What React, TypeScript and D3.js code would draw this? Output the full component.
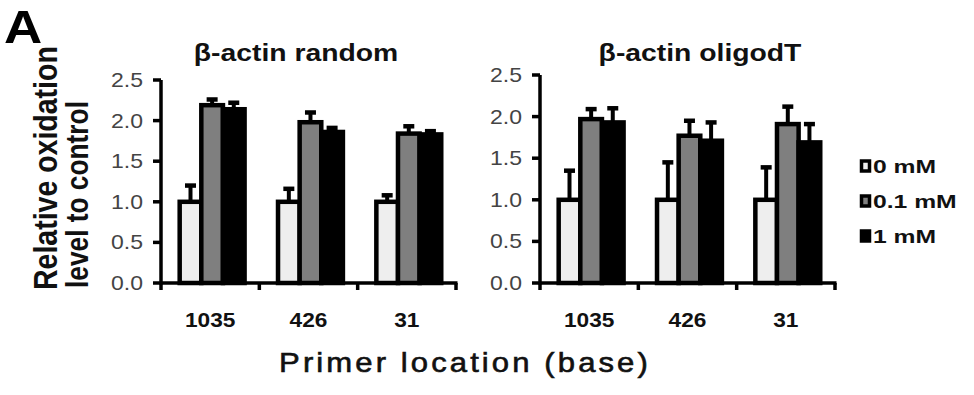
import React from 'react';
import * as d3 from 'd3';

const categories = ['1035', '426', '31'];
const series = ['0 mM', '0.1 mM', '1 mM'];
const seriesColors = ['#eeeeee', '#7f7f7f', '#000000'];
const yTicks = [0, 0.5, 1.0, 1.5, 2.0, 2.5];

// β-actin random
const randomZero = [1.0, 1.0, 1.0];
const randomLow = [2.19, 1.98, 1.84];
const randomHigh = [2.14, 1.86, 1.83];
const randomZeroErr = [0.2, 0.16, 0.08];
const randomLowErr = [0.07, 0.12, 0.09];
const randomHighErr = [0.08, 0.05, 0.04];

// β-actin oligodT
const oligoZero = [1.0, 1.0, 1.0];
const oligoLow = [1.97, 1.77, 1.91];
const oligoHigh = [1.93, 1.71, 1.69];
const oligoZeroErr = [0.35, 0.45, 0.39];
const oligoLowErr = [0.12, 0.18, 0.21];
const oligoHighErr = [0.17, 0.22, 0.22];

const font = 'Arial, "Liberation Sans", Helvetica, sans-serif';

// the original figure is stretched sideways, so text is too
function T({ x, y, sx = 1.3, anchor = 'middle', rotate = 0, children, ...rest }: any) {
  return (
    <text
      transform={`translate(${x},${y}) scale(${sx},1)${rotate ? ` rotate(${rotate})` : ''}`}
      textAnchor={anchor}
      fontFamily={font}
      {...rest}
    >
      {children}
    </text>
  );
}

function Panel({ title, left, right, top, bottom, titleX, values, errors }: any) {
  const x0 = d3.scaleBand().domain(categories).range([left, right]);
  const x1 = d3.scaleBand().domain(series)
    .range([x0.bandwidth() * 0.19, x0.bandwidth() * 0.85]);
  const y = d3.scaleLinear().domain([0, 2.5]).range([bottom, top]);
  const edges = [...categories.map(c => x0(c)!), right];

  return (
    <g>
      <T x={titleX} y={61} sx={1.18} fontSize={24} fontWeight="bold" fill="#111">{title}</T>
      {categories.map((c, ci) => (
        <g key={c}>
          {series.map((s, si) => {
            const v = values[si][ci];
            const e = errors[si][ci];
            const bx = x0(c)! + x1(s)!;
            const cx = bx + x1.bandwidth() / 2;
            return (
              <g key={s}>
                <line x1={cx} x2={cx} y1={y(v)} y2={y(v + e)} stroke="#000" strokeWidth={4} />
                <line x1={cx - 5.5} x2={cx + 5.5} y1={y(v + e)} y2={y(v + e)} stroke="#000" strokeWidth={4.5} />
                <rect x={bx} y={y(v)} width={x1.bandwidth()} height={y(0) - y(v)}
                  fill={seriesColors[si]} stroke="#000" strokeWidth={4.5} />
              </g>
            );
          })}
          <T x={x0(c)! + x0.bandwidth() / 2} y={327} sx={1.08} fontSize={21} fontWeight="bold" fill="#111">{c}</T>
        </g>
      ))}
      <line x1={left} x2={left} y1={bottom + 1.5} y2={top} stroke="#000" strokeWidth={3.5} />
      <line x1={left} x2={right + 1.5} y1={bottom} y2={bottom} stroke="#000" strokeWidth={3.5} />
      {yTicks.map(t => (
        <g key={t}>
          <line x1={left - 8} x2={left} y1={y(t)} y2={y(t)} stroke="#000" strokeWidth={3.5} />
          <T x={left - 18} y={y(t) + 7} anchor="end" sx={1.15} fontSize={20} fill="#444">{t.toFixed(1)}</T>
        </g>
      ))}
      {edges.map((ex, i) => (
        <line key={i} x1={ex} x2={ex} y1={bottom} y2={bottom + 7} stroke="#000" strokeWidth={3.5} />
      ))}
    </g>
  );
}

export default function App() {
  return (
    <svg width={974} height={395} style={{ position: 'absolute', left: 0, top: 0, background: '#fff' }}>
      <rect width={974} height={395} fill="#fff" />
      <T x={4} y={43} anchor="start" sx={1.15} fontSize={46} fontWeight="bold" fill="#000">A</T>
      <T x={57} y={290} anchor="start" sx={1.15} rotate={-90} fontSize={28.5} fontWeight="bold" fill="#111">Relative oxidation</T>
      <T x={88} y={288} anchor="start" sx={1.2} rotate={-90} fontSize={26.3} fontWeight="bold" fill="#111">level to control</T>

      <Panel title="β-actin random" left={161} right={456} top={80} bottom={283} titleX={296}
        values={[randomZero, randomLow, randomHigh]} errors={[randomZeroErr, randomLowErr, randomHighErr]} />
      <Panel title="β-actin oligodT" left={540} right={835} top={75} bottom={283} titleX={700}
        values={[oligoZero, oligoLow, oligoHigh]} errors={[oligoZeroErr, oligoLowErr, oligoHighErr]} />

      {series.map((s, i) => (
        <g key={s} transform={`translate(860,${166 + i * 35})`}>
          <rect x={1.5} y={-5} width={8} height={10} fill={seriesColors[i]} stroke="#000" strokeWidth={3.5} />
          <T x={13} y={7} anchor="start" sx={1.3} fontSize={19} fontWeight="bold" fill="#111">{s}</T>
        </g>
      ))}

      <T x={465} y={372} sx={1.15} fontSize={27} fill="#111" stroke="#111" strokeWidth={0.6}
        letterSpacing={2.7}>Primer location (base)</T>
    </svg>
  );
}
